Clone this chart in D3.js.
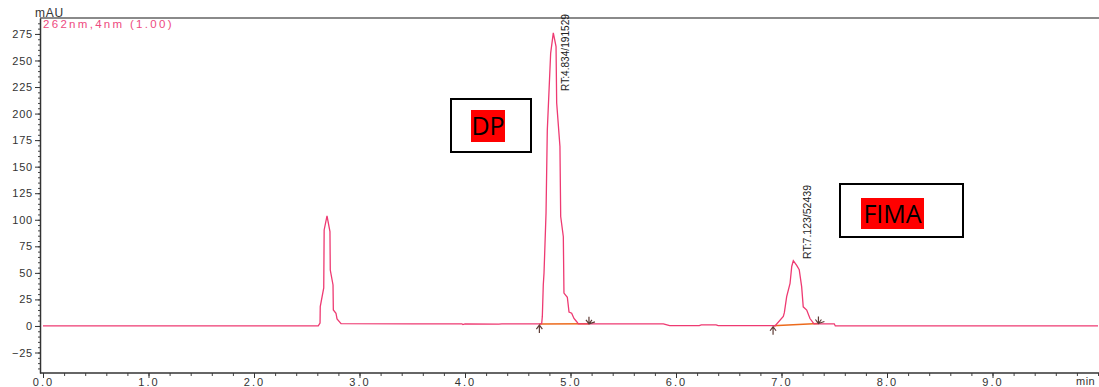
<!DOCTYPE html>
<html>
<head>
<meta charset="utf-8">
<script src="https://cdn.jsdelivr.net/npm/d3@7"></script>
<style>
    body { margin: 0; background: #fff; }
    svg { display: block; }
    text { font-family: "Liberation Sans", Arial, sans-serif; }
</style>
</head>
<body>
<svg id="chart" width="1099" height="387"></svg>
<script>
// chromatogram trace: [time (min), signal (mAU)]
const trace = [
    [0, 0], [2.600, 0], [2.609, 0], [2.626, 2.8], [2.628, 18.2], [2.661, 35.8], [2.665, 90.4],
    [2.692, 103.6], [2.720, 88.8], [2.723, 52.7], [2.749, 38.6], [2.752, 15], [2.777, 12],
    [2.787, 6.6], [2.825, 2.2], [3.50, 2.0], [3.97, 2.0], [3.98, 1.3], [4.00, 2.0], [4.32, 1.8],
    [4.35, 2.0], [4.72, 2.0], [4.727, 2.5], [4.733, 9], [4.742, 38.6], [4.749, 50], [4.768, 106],
    [4.780, 184], [4.812, 257], [4.837, 276], [4.863, 263], [4.869, 210], [4.900, 169],
    [4.907, 103], [4.932, 84], [4.938, 31], [4.970, 27], [4.986, 13], [5.011, 12], [5.033, 7],
    [5.059, 4], [5.074, 2], [5.88, 2.0], [5.94, 0.3], [6.22, 0.3], [6.24, 1.0], [6.38, 1.0],
    [6.40, 0.3], [6.93, 0.3], [6.938, 0], [7.017, 9], [7.027, 12.5], [7.049, 27.6], [7.081, 40],
    [7.097, 56], [7.112, 61.5], [7.144, 57], [7.168, 53], [7.191, 37], [7.206, 18], [7.239, 15],
    [7.270, 7], [7.308, 2], [7.50, 2], [7.51, 0], [10.0, 0]
];

// integrated peaks (retention time, area, baseline start / end)
const peakRT = [4.834, 7.123];
const peakArea = [191529, 52439];
const peakStart = [[4.705, 1.8], [6.92, 0.2]];
const peakEnd = [[5.175, 2.0], [7.35, 2.3]];

const compounds = ["DP", "FIMA"];
const xTicks = d3.range(0, 10, 1);
const yTicks = d3.range(-25, 276, 25);
const channel = "262nm,4nm (1.00)";

const svg = d3.select('#chart');

const x = d3.scaleLinear().domain([0, 10]).range([43, 1098]);
const y = d3.scaleLinear().domain([-44.3, 290]).range([373, 18]);

// frame top line
svg.append('line')
    .attr('x1', 40).attr('x2', 1099)
    .attr('y1', 18).attr('y2', 18)
    .attr('stroke', '#8a8a8a').attr('stroke-width', 2);

// minor ticks
svg.append('g')
    .attr('transform', 'translate(40,0)')
    .call(d3.axisLeft(y).tickValues(d3.range(-40, 290, 5)).tickSize(2).tickFormat(''))
    .call(g => g.select('.domain').remove())
    .selectAll('line').attr('stroke', '#444');

svg.append('g')
    .attr('transform', 'translate(0,373)')
    .call(d3.axisBottom(x).tickValues(d3.range(0, 10.01, 0.2)).tickSize(3).tickFormat(''))
    .call(g => g.select('.domain').remove())
    .selectAll('line').attr('stroke', '#444');

// y axis
const yAxis = svg.append('g')
    .attr('transform', 'translate(40,0)')
    .call(d3.axisLeft(y).tickValues(yTicks).tickSize(5).tickSizeOuter(0).tickPadding(2));
yAxis.select('.domain').attr('stroke', '#333').attr('stroke-width', 1.5);
yAxis.selectAll('.tick line').attr('stroke', '#333');
yAxis.selectAll('text')
    .style('font-size', '11px')
    .attr('fill', '#333')
    .style('letter-spacing', '0.8px');

// x axis
svg.append('line')
    .attr('x1', 40).attr('x2', 1099)
    .attr('y1', 373).attr('y2', 373)
    .attr('stroke', '#333').attr('stroke-width', 1.5);

const xAxis = svg.append('g')
    .attr('transform', 'translate(0,373)')
    .call(d3.axisBottom(x).tickValues(xTicks).tickFormat(d3.format('.1f')).tickSize(5).tickSizeOuter(0).tickPadding(0));
xAxis.select('.domain').remove();
xAxis.selectAll('.tick line').attr('stroke', '#333');
xAxis.selectAll('text')
    .style('font-size', '11px')
    .attr('fill', '#333')
    .style('letter-spacing', '2px');

svg.append('text')
    .attr('x', 1076).attr('y', 385)
    .style('font-size', '11px')
    .style('letter-spacing', '0.5px')
    .attr('fill', '#333')
    .text('min');

svg.append('text')
    .attr('x', 35).attr('y', 17)
    .style('font-size', '12px')
    .style('letter-spacing', '0.8px')
    .attr('fill', '#333')
    .text('mAU');

svg.append('text')
    .attr('x', 43).attr('y', 28)
    .style('font-size', '11.5px')
    .style('letter-spacing', '2.3px')
    .attr('fill', '#ee4a80')
    .text(channel);

// integration baselines
svg.selectAll('.baseline')
    .data(peakRT.map((d, i) => i))
    .join('line')
    .attr('class', 'baseline')
    .attr('x1', i => x(peakStart[i][0])).attr('y1', i => y(peakStart[i][1]))
    .attr('x2', i => x(peakEnd[i][0])).attr('y2', i => y(peakEnd[i][1]))
    .attr('stroke', '#ec6a1c').attr('stroke-width', 1.5);

// signal
svg.append('path')
    .datum(trace)
    .attr('d', d3.line().x(d => x(d[0])).y(d => y(d[1])))
    .attr('fill', 'none')
    .attr('stroke', '#ee3a72')
    .attr('stroke-width', 1.3);

// start / end markers
peakStart.forEach(function (p) {
    const px = x(p[0]), py = y(p[1]) + 1;
    svg.append('path')
        .attr('d', `M${px},${py + 8} L${px},${py} M${px - 3},${py + 4} L${px},${py} L${px + 3},${py + 4}`)
        .attr('fill', 'none').attr('stroke', '#5e3c36').attr('stroke-width', 1.2);
});
peakEnd.forEach(function (p) {
    const px = x(p[0]), py = y(p[1]);
    svg.append('path')
        .attr('d', `M${px},${py - 7} L${px},${py} M${px - 3},${py - 4} L${px},${py} L${px + 3},${py - 4} M${px},${py} L${px + 6},${py - 2}`)
        .attr('fill', 'none').attr('stroke', '#5e3c36').attr('stroke-width', 1.2);
});

// peak labels (rotated)
const labelBottom = [91, 259];
const labelLen = [77, 74];
peakRT.forEach(function (rt, i) {
    svg.append('text')
        .attr('transform', `translate(${x(rt) + 16.5},${labelBottom[i]}) rotate(-90)`)
        .style('font-size', '10.5px')
        .attr('fill', '#222')
        .attr('textLength', labelLen[i])
        .attr('lengthAdjust', 'spacingAndGlyphs')
        .text('RT:' + rt.toFixed(3) + '/' + peakArea[i]);
});

// compound boxes
const boxPos = [
    { x: 451, y: 99, w: 80, h: 53, rx: 471, ry: 110, rw: 34, rh: 32 },
    { x: 840, y: 184, w: 123, h: 53, rx: 861, ry: 198, rw: 63, rh: 31 }
];
compounds.forEach(function (name, i) {
    const b = boxPos[i];
    svg.append('rect')
        .attr('x', b.x).attr('y', b.y).attr('width', b.w).attr('height', b.h)
        .attr('fill', '#fff').attr('stroke', '#000').attr('stroke-width', 2);
    svg.append('rect')
        .attr('x', b.rx).attr('y', b.ry).attr('width', b.rw).attr('height', b.rh)
        .attr('fill', '#ff0000');
    svg.append('text')
        .attr('x', b.rx + b.rw / 2).attr('y', b.ry + b.rh / 2 + 9)
        .attr('text-anchor', 'middle')
        .style('font-family', '"Open Sans", sans-serif')
        .style('font-size', '25px')
        .attr('fill', '#000')
        .text(name);
});
</script>
</body>
</html>
